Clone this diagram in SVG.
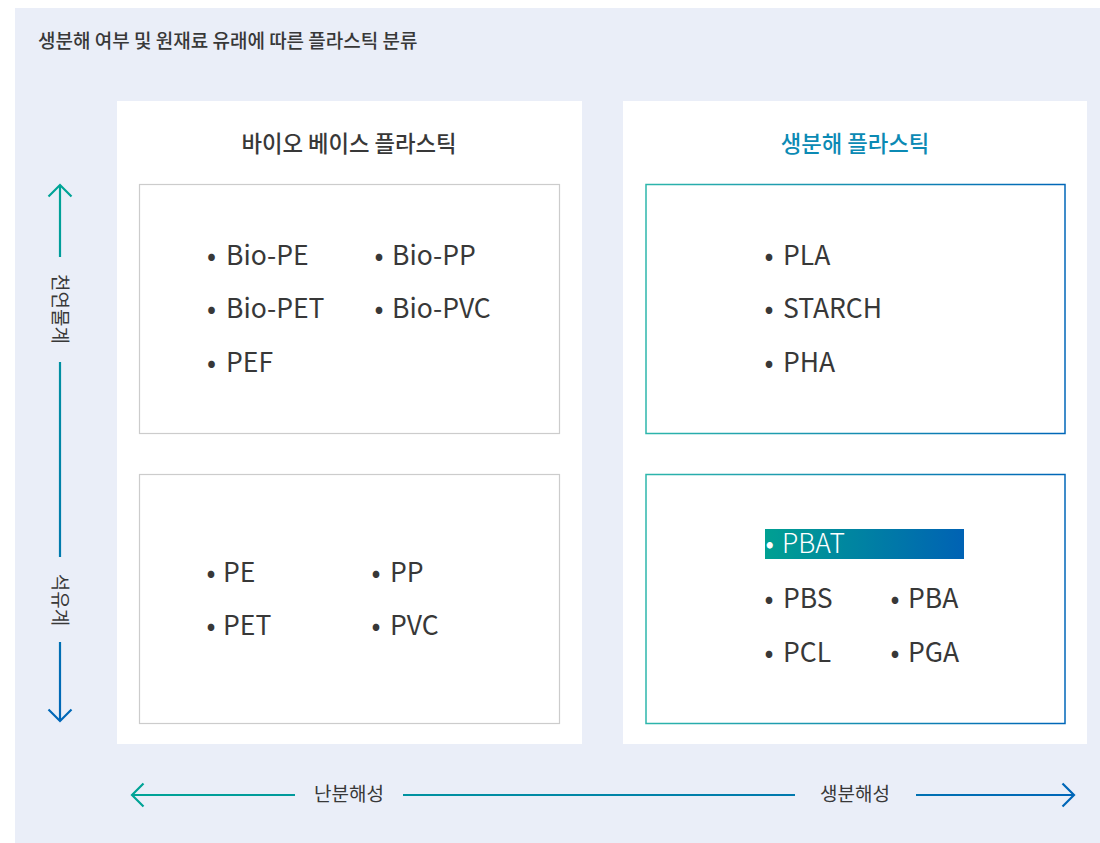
<svg xmlns="http://www.w3.org/2000/svg" width="1100" height="843" viewBox="0 0 1100 843">
<defs>
<linearGradient id="gH" gradientUnits="userSpaceOnUse" x1="131" y1="0" x2="1075" y2="0"><stop offset="0" stop-color="#00a496"/><stop offset="1" stop-color="#0066b8"/></linearGradient>
<linearGradient id="gV" gradientUnits="userSpaceOnUse" x1="0" y1="184" x2="0" y2="722"><stop offset="0" stop-color="#00a496"/><stop offset="1" stop-color="#0066b8"/></linearGradient>
<linearGradient id="gBox" x1="0" y1="0" x2="1" y2="0"><stop offset="0" stop-color="#2db6ab"/><stop offset="1" stop-color="#0066b8"/></linearGradient>
<linearGradient id="gHi" x1="0" y1="0" x2="1" y2="0"><stop offset="0" stop-color="#00a092"/><stop offset="1" stop-color="#0062b4"/></linearGradient>
<style>
text{font-family:"Noto Sans CJK KR","Noto Sans",sans-serif;fill:#383838}
.item{font-size:26.5px}
.title{font-size:22.3px;font-weight:500;text-anchor:middle}
.axis{font-size:19px}
.panel{fill:#fff}
.gray{fill:#fff;stroke:#cccccc;stroke-width:1.2}
.bio{fill:#fff;stroke:url(#gBox);stroke-width:1.5}
</style>
</defs>
<rect x="15" y="8" width="1085" height="835" fill="#eaeef8"/>
<text x="38" y="48" style="font-size:19px;font-weight:500">생분해 여부 및 원재료 유래에 따른 플라스틱 분류</text>

<g id="panel-biobased">
<rect class="panel" x="117" y="101" width="465" height="643"/>
<text class="title" x="349" y="152">바이오 베이스 플라스틱</text>
</g>
<g id="panel-biodegradable">
<rect class="panel" x="623" y="101" width="464" height="643"/>
<text class="title" x="855" y="152" style="fill:#0b8ab4">생분해 플라스틱</text>
</g>

<g id="box-bio-nondegradable">
<rect class="gray" x="139.5" y="184.5" width="420" height="249"/>
<text class="item" y="265"><tspan x="207">•</tspan><tspan x="226">Bio-PE</tspan></text>
<text class="item" y="265"><tspan x="374.5">•</tspan><tspan x="392">Bio-PP</tspan></text>
<text class="item" y="318"><tspan x="207">•</tspan><tspan x="226">Bio-PET</tspan></text>
<text class="item" y="318"><tspan x="374.5">•</tspan><tspan x="392">Bio-PVC</tspan></text>
<text class="item" y="372"><tspan x="207">•</tspan><tspan x="226">PEF</tspan></text>
</g>
<g id="box-petro-nondegradable">
<rect class="gray" x="139.5" y="474.5" width="420" height="249"/>
<text class="item" y="582"><tspan x="206.5">•</tspan><tspan x="223">PE</tspan></text>
<text class="item" y="582"><tspan x="371.5">•</tspan><tspan x="390">PP</tspan></text>
<text class="item" y="635"><tspan x="206.5">•</tspan><tspan x="223">PET</tspan></text>
<text class="item" y="635"><tspan x="371.5">•</tspan><tspan x="390">PVC</tspan></text>
</g>
<g id="box-bio-degradable">
<rect class="bio" x="646" y="184.5" width="419" height="249"/>
<text class="item" y="265"><tspan x="764.5">•</tspan><tspan x="783">PLA</tspan></text>
<text class="item" y="318"><tspan x="764.5">•</tspan><tspan x="783">STARCH</tspan></text>
<text class="item" y="372"><tspan x="764.5">•</tspan><tspan x="783">PHA</tspan></text>
</g>
<g id="box-petro-degradable">
<rect class="bio" x="646" y="474.5" width="419" height="249"/>
<rect x="765" y="529" width="199" height="30" fill="url(#gHi)"/>
<text class="item" y="553" style="fill:#fff;font-weight:300"><tspan x="765.5">•</tspan><tspan x="782">PBAT</tspan></text>
<text class="item" y="608"><tspan x="764.5">•</tspan><tspan x="783">PBS</tspan></text>
<text class="item" y="608"><tspan x="890.5">•</tspan><tspan x="908">PBA</tspan></text>
<text class="item" y="662"><tspan x="764.5">•</tspan><tspan x="783">PCL</tspan></text>
<text class="item" y="662"><tspan x="890.5">•</tspan><tspan x="908">PGA</tspan></text>
</g>

<g id="connectors" fill="none" stroke-width="2.2">
<g stroke="url(#gV)">
<line x1="60" y1="185" x2="60" y2="257"/>
<polyline points="48.5,196.5 60,185 71.5,196.5"/>
<line x1="60" y1="362" x2="60" y2="557"/>
<line x1="60" y1="642" x2="60" y2="721"/>
<polyline points="48.5,709.5 60,721 71.5,709.5"/>
</g>
<g stroke="url(#gH)">
<line x1="132" y1="795" x2="295" y2="795"/>
<polyline points="143.5,783.5 132,795 143.5,806.5"/>
<line x1="403" y1="795" x2="795" y2="795"/>
<line x1="916" y1="795" x2="1074" y2="795"/>
<polyline points="1062.5,783.5 1074,795 1062.5,806.5"/>
</g>
</g>
<g id="axis-labels">
<text class="axis" transform="translate(53,309) rotate(90)" text-anchor="middle">천연물계</text>
<text class="axis" transform="translate(53,600) rotate(90)" text-anchor="middle">석유계</text>
<text class="axis" x="349" y="801" text-anchor="middle">난분해성</text>
<text class="axis" x="855" y="801" text-anchor="middle">생분해성</text>
</g>
</svg>
